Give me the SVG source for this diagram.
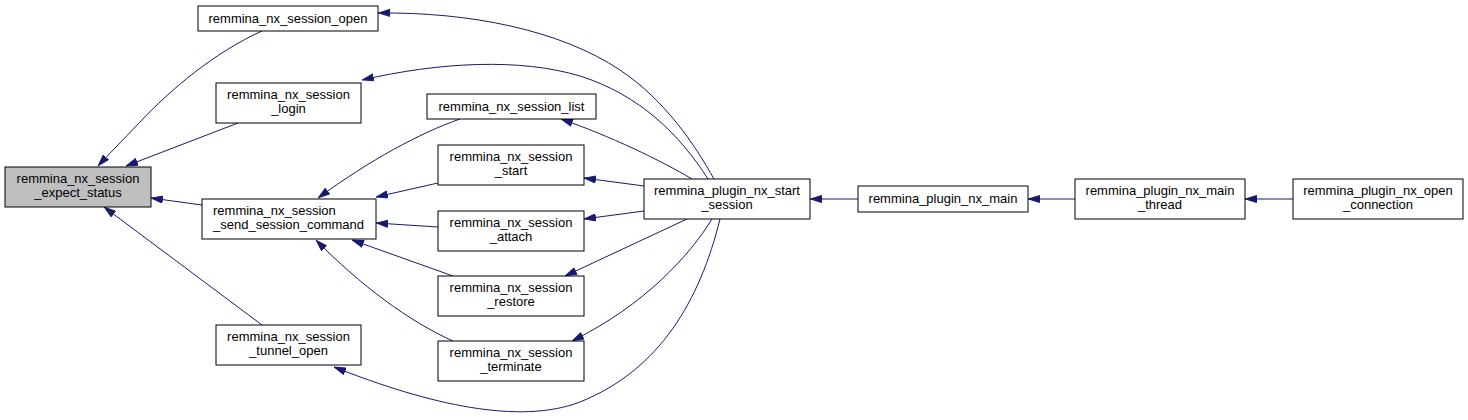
<svg xmlns="http://www.w3.org/2000/svg" width="1468" height="420" viewBox="0 0 1468 420">
<style>
.n rect{fill:#ffffff;stroke:#000000;stroke-width:1}
.n.h rect{fill:#bfbfbf}
.n text{font-family:"Liberation Sans",Arial,sans-serif;font-size:13px;fill:#000000;text-anchor:middle}
.n text.l{text-anchor:start}
.e path{fill:none;stroke:#191970;stroke-width:1;marker-end:url(#ah)}
</style>
<defs>
<marker id="ah" viewBox="0 0 12 8" refX="12" refY="4" markerWidth="12" markerHeight="8" markerUnits="userSpaceOnUse" orient="auto">
<path d="M0.5,0.5 L11.5,4 L0.5,7.5 z" fill="#191970" stroke="#191970" stroke-width="1"/>
</marker>
</defs>
<rect width="1468" height="420" fill="#ffffff"/>
<g id="edges" class="e">
<path d="M714,179 C695,145 665,100 620,70 C560,30 470,12 378,13"/>
<path d="M708,179 C680,135 640,95 580,76 C520,58 440,62 362,80"/>
<path d="M692,179 C660,160 610,136 561,119"/>
<path d="M644,186 L584,178"/>
<path d="M644,211 L584,219"/>
<path d="M687,219 L565,276"/>
<path d="M712,219 C690,255 645,305 572,341"/>
<path d="M720,219 C700,300 660,370 580,402 C520,425 430,405 334,367"/>
<path d="M262,31 C215,52 170,90 140,122 C122,141 108,155 98,166"/>
<path d="M238,123 L126,166"/>
<path d="M202,205 L151,198"/>
<path d="M262,325 L104,207"/>
<path d="M460,119 C420,133 370,160 318,198"/>
<path d="M438,183 L376,197"/>
<path d="M438,227 L376,223"/>
<path d="M453,276 L352,240"/>
<path d="M453,341 C410,322 360,285 316,240"/>
<path d="M858,199 L810,199"/>
<path d="M1075,199 L1028,199"/>
<path d="M1293,199 L1245,199"/>
</g>
<g id="expect_status" class="n h"><rect x="5" y="167" width="146" height="40"/><text x="78" y="183">remmina_nx_session</text><text x="78" y="197">_expect_status</text></g>
<g id="session_open" class="n"><rect x="198" y="6" width="180" height="25"/><text x="288" y="23">remmina_nx_session_open</text></g>
<g id="session_login" class="n"><rect x="216" y="83" width="145" height="40"/><text x="288.5" y="99">remmina_nx_session</text><text x="288.5" y="113">_login</text></g>
<g id="send_session_command" class="n"><rect x="202" y="199" width="174" height="40"/><text class="l" x="213" y="215">remmina_nx_session</text><text class="l" x="213" y="229">_send_session_command</text></g>
<g id="tunnel_open" class="n"><rect x="216" y="325" width="145" height="40"/><text x="288.5" y="341">remmina_nx_session</text><text x="288.5" y="355">_tunnel_open</text></g>
<g id="session_list" class="n"><rect x="427" y="94" width="169" height="25"/><text x="511.5" y="111">remmina_nx_session_list</text></g>
<g id="session_start" class="n"><rect x="438" y="145" width="146" height="40"/><text x="511" y="161">remmina_nx_session</text><text x="511" y="175">_start</text></g>
<g id="session_attach" class="n"><rect x="438" y="211" width="146" height="40"/><text x="511" y="227">remmina_nx_session</text><text x="511" y="241">_attach</text></g>
<g id="session_restore" class="n"><rect x="438" y="276" width="146" height="40"/><text x="511" y="292">remmina_nx_session</text><text x="511" y="306">_restore</text></g>
<g id="session_terminate" class="n"><rect x="438" y="341" width="146" height="40"/><text x="511" y="357">remmina_nx_session</text><text x="511" y="371">_terminate</text></g>
<g id="plugin_nx_start_session" class="n"><rect x="644" y="179" width="166" height="40"/><text x="727" y="195">remmina_plugin_nx_start</text><text x="727" y="209">_session</text></g>
<g id="plugin_nx_main" class="n"><rect x="858" y="186" width="170" height="26"/><text x="943" y="203">remmina_plugin_nx_main</text></g>
<g id="plugin_nx_main_thread" class="n"><rect x="1075" y="179" width="170" height="40"/><text x="1160" y="195">remmina_plugin_nx_main</text><text x="1160" y="209">_thread</text></g>
<g id="plugin_nx_open_connection" class="n"><rect x="1293" y="179" width="170" height="40"/><text x="1378" y="195">remmina_plugin_nx_open</text><text x="1378" y="209">_connection</text></g>
</svg>
